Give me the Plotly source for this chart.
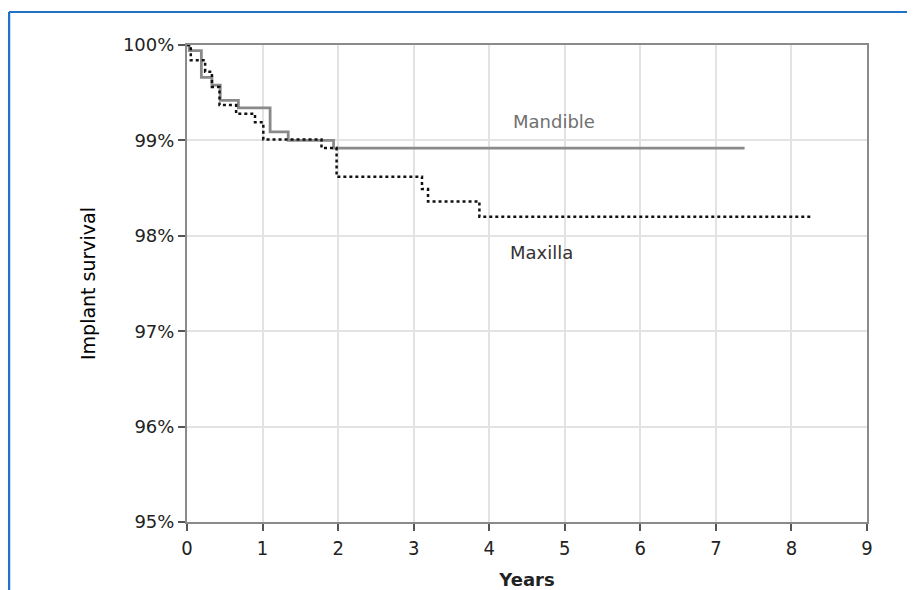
import plotly.graph_objects as go

# Kaplan-Meier step data (years, survival %)
mandible_years = [0, 0.03, 0.19, 0.33, 0.44, 0.68, 1.10, 1.34, 1.94, 7.38]
mandible_surv = [100, 99.94, 99.66, 99.58, 99.42, 99.34, 99.09, 99.00, 98.92, 98.92]

maxilla_years = [0, 0.05, 0.24, 0.33, 0.43, 0.65, 0.90, 1.01, 1.78, 1.98, 3.11, 3.19, 3.87, 8.25]
maxilla_surv = [100, 99.84, 99.72, 99.56, 99.37, 99.28, 99.19, 99.01, 98.92, 98.62, 98.49, 98.36, 98.20, 98.20]

y_tick_vals = [95, 96, 97, 98, 99, 100]
y_tick_text = ["95%", "96%", "97%", "98%", "99%", "100%"]
x_tick_vals = list(range(0, 10))

fig = go.Figure()
fig.add_trace(go.Scatter(
    x=mandible_years, y=mandible_surv, mode="lines", line_shape="hv",
    line=dict(color="#8a8a8a", width=2.8), name="Mandible", showlegend=False,
    hoverinfo="skip"))
fig.add_trace(go.Scatter(
    x=maxilla_years, y=maxilla_surv, mode="lines", line_shape="hv",
    line=dict(color="#111111", width=2.5, dash="dot"), name="Maxilla", showlegend=False,
    hoverinfo="skip"))

fig.add_annotation(x=4.86, y=99.195, text="Mandible", showarrow=False,
                   font=dict(family="DejaVu Sans", size=18, color="#707070"))
fig.add_annotation(x=4.69, y=97.82, text="Maxilla", showarrow=False,
                   font=dict(family="DejaVu Sans", size=18, color="#333333"))

# blue frame
fig.add_shape(type="line", xref="paper", yref="paper", x0=-0.2618, x1=1.2, y0=1.0692, y1=1.0692,
              line=dict(color="#1f72c4", width=2))
fig.add_shape(type="line", xref="paper", yref="paper", x0=-0.2618, x1=-0.2618, y0=-0.2, y1=1.0692,
              line=dict(color="#1f72c4", width=2.5))

fig.update_xaxes(range=[0, 9], tickvals=x_tick_vals, showgrid=True, gridcolor="#e3e3e3", gridwidth=1.5,
                 showline=True, linecolor="#8a8a8a", linewidth=2, mirror=True,
                 ticks="outside", ticklen=7, tickcolor="#555555", tickwidth=1.5,
                 zeroline=False, automargin=False,
                 tickfont=dict(family="DejaVu Sans Condensed, DejaVu Sans", size=20, color="#222222"),
                 title=dict(text="<b>Years</b>", font=dict(family="DejaVu Sans", size=18, color="#222222"),
                            standoff=14))
fig.update_yaxes(range=[95, 100], tickvals=y_tick_vals, ticktext=y_tick_text, showgrid=True,
                 gridcolor="#e3e3e3", gridwidth=1.5,
                 showline=True, linecolor="#8a8a8a", linewidth=2, mirror=True,
                 ticks="outside", ticklen=7, tickcolor="#555555", tickwidth=1.5,
                 zeroline=False, automargin=False,
                 tickfont=dict(family="DejaVu Sans", size=18, color="#222222"),
                 title=dict(text="Implant survival", font=dict(family="DejaVu Sans", size=19, color="#000000"),
                            standoff=22))

fig.update_layout(width=907, height=582, margin=dict(l=179, r=48, t=37, b=68),
                  plot_bgcolor="white", paper_bgcolor="white")

fig.write_html("out.html")
